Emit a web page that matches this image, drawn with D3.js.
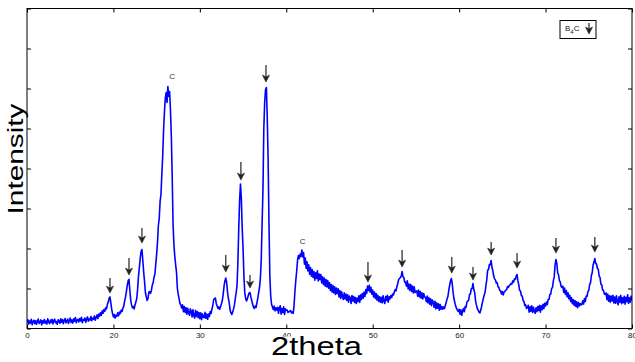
<!DOCTYPE html>
<html><head><meta charset="utf-8">
<script src="https://cdn.jsdelivr.net/npm/d3@7"></script>
<style>html,body{margin:0;padding:0;background:#fff;}svg{display:block;font-family:"Liberation Sans",Arial,sans-serif;}</style>
</head><body>
<svg id="chart" width="635" height="362"></svg>
<script>
// XRD scan: start angle, step (degrees 2theta) and counts
const scanStart = 10;
const scanStep = 0.1;
const counts = [
30,44,22,38,27,46,19,35,41,24,
40,21,36,47,25,31,43,18,39,28,
45,26,37,22,48,33,24,42,30,46,
23,39,47,29,35,21,44,38,26,49,
31,45,24,40,50,28,36,47,25,41,
52,30,43,27,48,36,55,29,41,46,
33,50,38,56,29,45,40,53,31,47,
58,36,49,42,60,39,52,47,63,41,
55,68,50,72,61,79,66,88,76,95,
86,104,98,121,132,150,158,128,96,74,
58,70,52,66,61,78,64,82,75,92,
85,102,112,138,158,185,215,238,246,190,
142,118,104,110,98,118,132,150,198,262,
305,352,385,395,340,282,235,180,158,140,
150,182,184,176,192,218,230,258,272,322,
372,430,515,550,635,670,770,860,990,1080,
1150,1180,1130,1210,1160,1185,1090,960,760,520,
420,360,318,280,200,170,148,125,118,102,
118,84,110,80,104,72,101,78,66,98,
86,58,94,64,52,91,60,85,54,80,
49,78,44,74,56,54,81,51,72,46,
72,60,85,75,98,115,145,150,152,124,
112,100,108,96,110,124,140,172,212,238,
252,230,182,150,128,92,78,70,82,98,
118,150,178,215,330,500,640,722,650,500,
400,260,178,150,138,148,165,178,180,158,
140,122,108,100,112,105,128,150,178,205,
250,340,520,690,1000,1130,1195,1205,1050,840,
520,260,160,120,108,95,112,88,104,92,
106,76,102,114,72,100,80,108,70,98,
91,92,80,84,86,90,78,82,76,116,
185,240,285,340,365,350,372,360,392,358,
380,322,352,300,334,288,318,272,305,262,
295,255,285,242,278,250,288,238,272,245,
270,228,258,220,252,212,245,208,240,202,
230,190,220,182,215,178,208,170,202,175,
198,158,190,150,184,162,145,178,148,172,
140,168,132,162,152,125,165,138,160,130,
155,125,152,135,163,130,168,145,175,152,
182,160,195,175,212,190,216,182,206,172,
192,158,182,150,175,142,166,135,158,132,
156,128,164,136,125,160,140,166,132,158,
148,165,155,172,168,182,195,188,210,225,
245,250,255,262,285,258,255,232,232,212,
238,198,222,190,220,185,212,178,208,180,
186,188,162,192,158,185,152,178,148,175,
158,155,134,162,128,155,122,148,114,142,
132,106,136,98,128,102,124,92,120,96,
110,96,108,100,115,130,148,160,190,215,
238,250,225,180,150,130,112,100,92,85,
96,72,94,66,86,100,84,110,106,132,
138,140,170,172,198,200,225,195,180,138,
118,100,92,82,78,92,110,132,150,168,
180,215,245,292,295,320,318,340,305,288,
262,248,242,228,230,208,205,190,188,172,
185,168,182,186,192,195,210,205,215,218,
225,222,238,232,248,245,262,270,238,218,
190,188,165,162,140,135,115,118,100,104,
116,82,108,86,114,80,106,88,76,104,
84,110,90,116,82,114,94,121,99,126,
112,132,120,145,146,170,172,200,205,238,
258,318,345,325,280,268,240,232,210,205,
212,180,202,170,190,158,178,148,166,135,
155,124,144,116,140,110,134,104,130,112,
125,118,120,138,122,150,135,162,160,185,
190,220,228,265,280,318,332,350,325,322,
300,295,262,255,222,218,192,190,172,170,
178,144,172,136,164,132,162,138,166,128,
157,126,164,134,119,158,132,166,124,154,
129,161,122,156,134,168,126,154,132,162,
140
];

// B4C reflections marked with arrows (2theta, arrow tip, arrow tail in counts)
const arrowTheta = [19.6, 21.8, 23.3, 33.0, 34.75, 35.8, 37.65, 49.45, 53.4, 59.15, 61.6, 63.7, 66.7, 71.2, 75.7];
const arrowTip   = [177, 267, 427, 282, 742, 202, 1232, 232, 307, 277, 242, 367, 302, 377, 382];
const arrowTail  = [252, 352, 502, 367, 832, 267, 1317, 332, 392, 357, 307, 432, 377, 452, 457];

// carbon reflections
const carbonTheta = [26.8, 41.9];
const carbonAt    = [1262, 437];
const carbonLabel = ["C", "C"];

// axes
const xDomain = [10, 80];
const yDomain = [0, 1600];
const xTicks = [10, 20, 30, 40, 50, 60, 70, 80];
const xTickLabels = ["0", "20", "30", "40", "50", "60", "70", "80"];
const yTicks = [0, 200, 400, 600, 800, 1000, 1200, 1400, 1600];
const xTitle = "2theta";
const yTitle = "Intensity";

const svg = d3.select("#chart");
const L = 27, R = 632, T = 8.5, B = 328.5;
const x = d3.scaleLinear().domain(xDomain).range([L, R]);
const y = d3.scaleLinear().domain(yDomain).range([B, T]);

svg.append("defs").append("clipPath").attr("id","clip")
  .append("rect").attr("x", L).attr("y", T).attr("width", R-L).attr("height", B-T);

// series
const line = d3.line().x((d,i)=>x(scanStart + i*scanStep)).y(d=>y(d));
svg.append("path").datum(counts)
  .attr("clip-path","url(#clip)")
  .attr("d", line).attr("fill","none").attr("stroke","#0000ff")
  .attr("stroke-width",1.6).attr("stroke-linejoin","round");

// axes
const axB = svg.append("g").attr("transform",`translate(0,${B})`)
  .call(d3.axisBottom(x).tickValues(xTicks).tickFormat((d,i)=>xTickLabels[i]).tickSizeInner(-4).tickSizeOuter(0).tickPadding(4));
const axT = svg.append("g").attr("transform",`translate(0,${T})`)
  .call(d3.axisTop(x).tickValues(xTicks).tickFormat("").tickSizeInner(-4).tickSizeOuter(0));
const axL = svg.append("g").attr("transform",`translate(${L},0)`)
  .call(d3.axisLeft(y).tickValues(yTicks).tickFormat("").tickSizeInner(-4).tickSizeOuter(0));
const axR = svg.append("g").attr("transform",`translate(${R},0)`)
  .call(d3.axisRight(y).tickValues(yTicks).tickFormat("").tickSizeInner(-4).tickSizeOuter(0));
[axB,axT,axL,axR].forEach(g=>{ g.select(".domain").remove(); g.selectAll("line").attr("stroke","#000"); });
axB.selectAll("text").attr("font-size",8).attr("fill","#222").attr("font-family","Liberation Sans, Arial, sans-serif");

svg.append("rect").attr("x",L).attr("y",T).attr("width",R-L).attr("height",B-T)
  .attr("fill","none").attr("stroke","#000").attr("stroke-width",1);

// arrows
function arrow(g, px, tipY, tailY){
  g.append("line").attr("x1",px).attr("x2",px).attr("y1",tailY).attr("y2",tipY-4)
    .attr("stroke","#222").attr("stroke-width",1.2);
  g.append("path").attr("d",`M${px},${tipY} L${px-3.5},${tipY-7} L${px},${tipY-5} L${px+3.5},${tipY-7} Z`)
    .attr("fill","#222").attr("stroke","#222").attr("stroke-width",0.6);
}
const ag = svg.append("g");
arrowTheta.forEach((t,i)=>arrow(ag, x(t), y(arrowTip[i]), y(arrowTail[i])));

// carbon labels
svg.append("g").selectAll("text").data(carbonTheta).join("text")
  .attr("x",(d)=>x(d)).attr("y",(d,i)=>y(carbonAt[i]))
  .attr("text-anchor","middle").attr("dy","0.35em")
  .attr("font-size",8).attr("fill","#333").text((d,i)=>carbonLabel[i]);

// legend
const lg = svg.append("g");
lg.append("rect").attr("x",560).attr("y",20.5).attr("width",36).attr("height",18)
  .attr("fill","#fff").attr("stroke","#000").attr("stroke-width",1);
const lt = lg.append("text").attr("x",565).attr("y",31).attr("font-size",8).attr("fill","#222");
lt.append("tspan").text("B");
lt.append("tspan").attr("font-size",6).attr("dy",3).text("4");
lt.append("tspan").attr("dy",-3).text("C");
arrow(lg, 589, 34, 23);

// axis titles
const tg = svg.append("g");
const bgRect = tg.append("rect").attr("fill","#fff");
const xt = tg.append("text").attr("x",271).attr("y",355)
  .attr("font-size",25).attr("fill","#000")
  .attr("textLength",91).attr("lengthAdjust","spacingAndGlyphs").text(xTitle);
const bb = xt.node().getBBox();
bgRect.attr("x",bb.x-2).attr("y",336.5).attr("width",bb.width+4).attr("height",362-336.5);

svg.append("text").attr("transform","translate(23,159) rotate(-90)")
  .attr("text-anchor","middle").attr("font-size",22).attr("fill","#000")
  .attr("textLength",111).attr("lengthAdjust","spacingAndGlyphs").text(yTitle);
</script>
</body></html>
